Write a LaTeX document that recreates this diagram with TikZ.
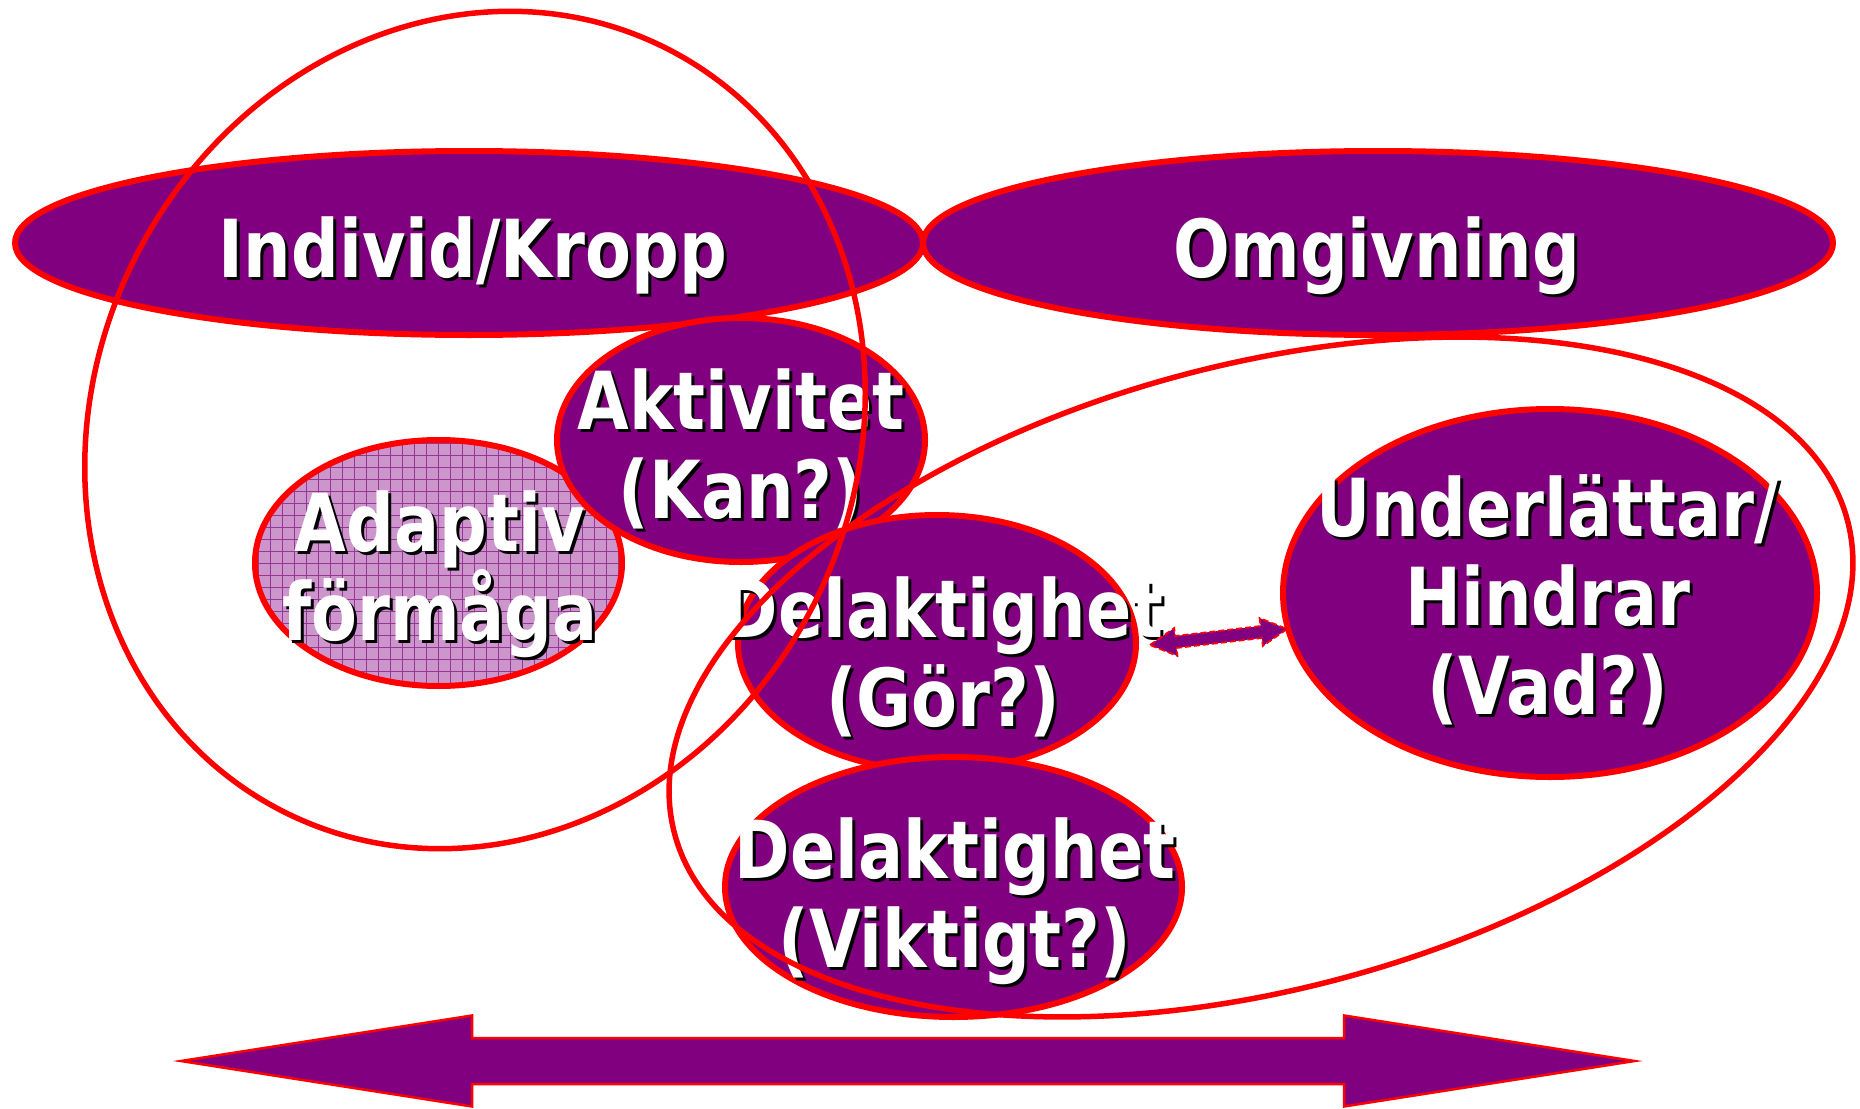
\documentclass[tikz,border=0pt]{standalone}
\usepackage{fontspec}
\usetikzlibrary{shapes.geometric}
\newfontfamily\lblfont{DejaVu Sans}[FakeStretch=0.835]
\definecolor{vio}{HTML}{800080}
\definecolor{hatchbg}{HTML}{CC96CC}
\definecolor{hatchln}{HTML}{953895}
% white label with a black drop shadow
\newcommand\shadowed[3]{%
  \node[lblshadow] (#1-sh) at (#2) {#3};
  \node[lbl] (#1) at (#2) {#3};}
\begin{document}
\begin{tikzpicture}[x=1pt,y=-1pt,
  blob/.style={ellipse, inner sep=0pt, fill=vio, draw=red, line width=6pt},
  hatchblob/.style={ellipse, inner sep=0pt, draw=red, line width=6pt,
    path picture={
      \fill[hatchbg] (path picture bounding box.south west) rectangle (path picture bounding box.north east);
      \draw[hatchln, line width=0.9pt, step=12pt] (path picture bounding box.south west) grid (path picture bounding box.north east);}},
  ring/.style={ellipse, inner sep=0pt, draw=red, line width=5.5pt},
  lbl/.style={text=white, font=\lblfont\bfseries\fontsize{80}{89}\selectfont, inner sep=0pt, anchor=base},
  lblshadow/.style={lbl, text=black, xshift=3pt, yshift=-3pt},
  bigarrow/.style={fill=vio, draw=red, line width=2.5pt, line join=miter},
  smallarrow/.style={fill=vio, draw=red, line width=1.8pt, dash pattern=on 6pt off 3pt}]
\useasboundingbox (0,0) rectangle (1860,1108);
\fill[white] (0,0) rectangle (1860,1108);

% top pair
\node[blob, minimum width=908, minimum height=184] (indkr) at (469,243) {};
\shadowed{t-indkr}{473,277}{Individ/Kropp}
\node[blob, minimum width=910, minimum height=184] (omg) at (1378,243) {};
\shadowed{t-omg}{1377,277}{Omgivning}

% adaptive capacity
\node[hatchblob, minimum width=367, minimum height=246] (adap) at (438.5,563) {};
\shadowed{t-adap1}{440,551}{Adaptiv}
\shadowed{t-adap2}{440,640}{förmåga}

% activity
\node[blob, minimum width=368, minimum height=244] (akt) at (741,440) {};
\shadowed{t-akt1}{741,429}{Aktivitet}
\shadowed{t-akt2}{741,518}{(Kan?)}

% participation
\node[blob, minimum width=398, minimum height=256] (gor) at (937,643) {};
\shadowed{t-gor1}{943,637}{Delaktighet}
\shadowed{t-gor2}{943,726}{(Gör?)}
\node[blob, minimum width=457, minimum height=260] (vikt) at (953.5,887) {};
\shadowed{t-vikt1}{955,878}{Delaktighet}
\shadowed{t-vikt2}{955,967}{(Viktigt?)}

% environment factors
\node[blob, minimum width=534, minimum height=368] (uh) at (1550,593) {};
\shadowed{t-uh1}{1548,536}{Underlättar/}
\shadowed{t-uh2}{1548,625}{Hindrar}
\shadowed{t-uh3}{1548,714}{(Vad?)}

% small double arrow between participation and environment
\begin{scope}[shift={(1150,645)}, rotate=6.66]
  \draw[smallarrow] (0,0) -- (26,-14) -- (26,-6) -- (112,-6) -- (112,-14) -- (138,0)
    -- (112,14) -- (112,6) -- (26,6) -- (26,14) -- cycle;
\end{scope}

% enclosing rings
\node[ring, rotate=-25.9, minimum width=762, minimum height=854] (ringind) at (475,430) {};
\node[ring, rotate=15, minimum width=1214, minimum height=624] (ringomg) at (1261,677) {};

% bottom double arrow
\draw[bigarrow] (181,1061) -- (472,1015.5) -- (472,1038) -- (1344,1038) -- (1344,1015.5)
  -- (1634.5,1061) -- (1344,1106.5) -- (1344,1084) -- (472,1084) -- (472,1106.5) -- cycle;
\end{tikzpicture}
\end{document}
